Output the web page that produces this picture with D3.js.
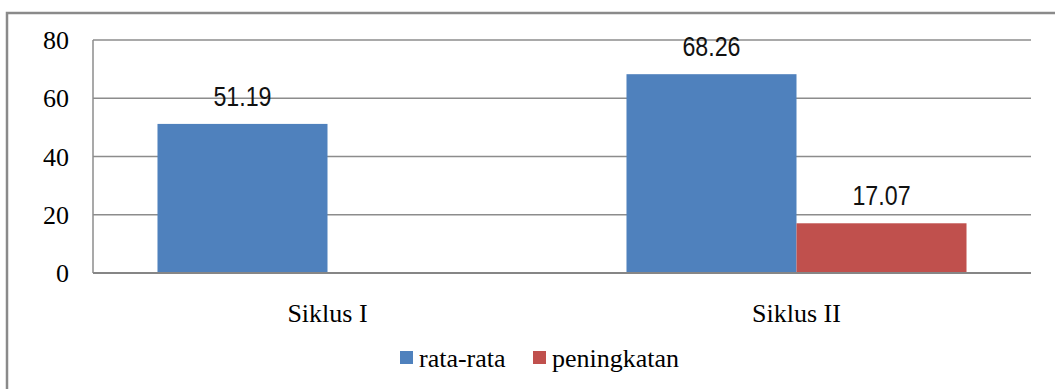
<!DOCTYPE html>
<html><head><meta charset="utf-8">
<script src="https://cdn.jsdelivr.net/npm/d3@7"></script>
<style>
html,body{margin:0;padding:0;background:#fff;}
svg{display:block;}
</style>
</head><body>
<svg id="chart" width="1055" height="389"></svg>
<script>
const categories = ["Siklus I", "Siklus II"];
const seriesNames = ["rata-rata", "peningkatan"];
const rataRata = [51.19, 68.26];
const peningkatan = [null, 17.07];
const yTicks = [0, 20, 40, 60, 80];
const colors = ["#4F81BD", "#C0504D"];

const svg = d3.select("#chart");
const W = 1055, H = 389;
const plot = {left: 93, right: 1031, top: 40, bottom: 273};

// outer border
svg.append("rect").attr("x", 7).attr("y", 13).attr("width", W).attr("height", H)
  .attr("fill", "none").attr("stroke", "#8a8a8a").attr("stroke-width", 2.5);

const y = d3.scaleLinear().domain([0, 80]).range([plot.bottom, plot.top]);
const x0 = d3.scaleBand().domain(categories).range([plot.left, plot.right])
  .paddingInner(0.275).paddingOuter(0.1375);
const x1 = d3.scaleBand().domain(seriesNames).range([0, x0.bandwidth()]);

// gridlines
svg.append("g").selectAll("line").data(yTicks.filter(d => d > 0)).join("line")
  .attr("x1", plot.left).attr("x2", plot.right)
  .attr("y1", d => y(d)).attr("y2", d => y(d))
  .attr("stroke", "#8c8c8c").attr("stroke-width", 1.5);

// bars
const data = [];
categories.forEach((c, i) => {
  data.push({cat: c, s: seriesNames[0], v: rataRata[i], col: colors[0]});
  data.push({cat: c, s: seriesNames[1], v: peningkatan[i], col: colors[1]});
});
const valid = data.filter(d => d.v != null);
svg.append("g").selectAll("rect").data(valid).join("rect")
  .attr("x", d => x0(d.cat) + x1(d.s))
  .attr("width", x1.bandwidth())
  .attr("y", d => y(d.v))
  .attr("height", d => y(0) - y(d.v))
  .attr("fill", d => d.col);

// value labels
svg.append("g").selectAll("text").data(valid).join("text")
  .attr("transform", d => `translate(${x0(d.cat) + x1(d.s) + x1.bandwidth()/2},${y(d.v) - 18}) scale(0.86,1)`)
  .attr("text-anchor", "middle")
  .attr("font-family", "'Liberation Sans', Arial, sans-serif")
  .attr("font-size", 27)
  .attr("fill", "#111")
  .text(d => d.v.toFixed(2));

// left axis line
svg.append("line").attr("x1", plot.left).attr("x2", plot.left)
  .attr("y1", plot.top).attr("y2", plot.bottom)
  .attr("stroke", "#8c8c8c").attr("stroke-width", 1.5);
// bottom axis line
svg.append("line").attr("x1", plot.left).attr("x2", plot.right)
  .attr("y1", plot.bottom).attr("y2", plot.bottom)
  .attr("stroke", "#868686").attr("stroke-width", 2);

// y tick labels
svg.append("g").selectAll("text").data(yTicks).join("text")
  .attr("x", 69).attr("y", d => y(d) + 9)
  .attr("text-anchor", "end")
  .attr("font-family", "'Liberation Serif', 'Times New Roman', serif")
  .attr("font-size", 26).attr("fill", "#000")
  .text(d => d);

// category labels
svg.append("g").selectAll("text").data(categories).join("text")
  .attr("x", d => x0(d) + x0.bandwidth()/2).attr("y", 322)
  .attr("text-anchor", "middle")
  .attr("font-family", "'Liberation Serif', 'Times New Roman', serif")
  .attr("font-size", 26).attr("fill", "#000")
  .text(d => d);

// legend
const legendX = [400, 533];
const lg = svg.append("g").selectAll("g").data(seriesNames).join("g")
  .attr("transform", (d, i) => `translate(${legendX[i]},351)`);
lg.append("rect").attr("width", 13).attr("height", 13).attr("fill", (d, i) => colors[i]);
lg.append("text").attr("x", 19).attr("y", 16)
  .attr("font-family", "'Liberation Serif', 'Times New Roman', serif")
  .attr("font-size", 26).attr("fill", "#000")
  .text(d => d);
</script>
</body></html>
